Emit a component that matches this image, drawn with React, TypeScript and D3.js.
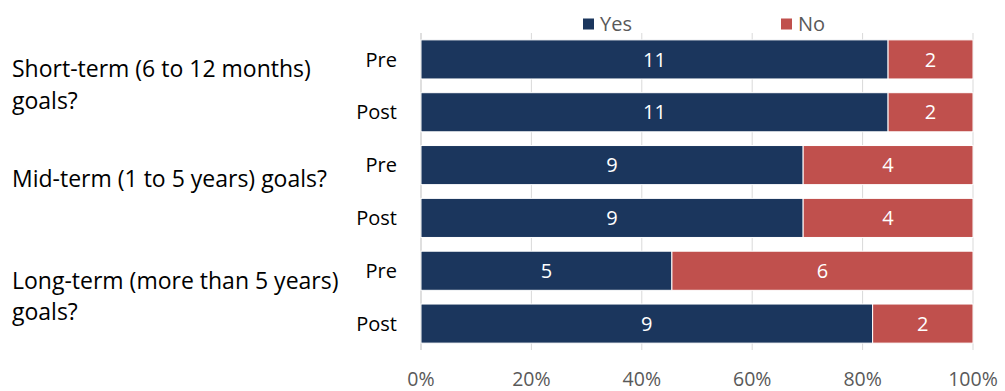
import React from "react";
import * as d3 from "d3";

const groupLines = [["Short-term (6 to 12 months)", "goals?"], ["Mid-term (1 to 5 years) goals?"], ["Long-term (more than 5 years)", "goals?"]];
const phases = ["Pre", "Post"];
const yesValues = [11, 11, 9, 9, 5, 9];
const noValues = [2, 2, 4, 4, 6, 2];
const ticks = [0, 0.2, 0.4, 0.6, 0.8, 1];
const seriesNames = ["Yes", "No"];
const colors = ["#1B365D", "#C0504D"];

export default function App() {
  const W = 1005, H = 391;
  const left = 421, right = 973, top = 33, bottom = 350;
  const rows = yesValues.map((y, i) => ({ key: `${i}`, phase: phases[i % 2], group: Math.floor(i / 2), yes: y, no: noValues[i] }));
  const x = d3.scaleLinear().domain([0, 1]).range([left, right]);
  const y = d3.scaleBand().domain(rows.map(r => r.key)).range([top, bottom]).paddingInner(0.26).paddingOuter(0.13);
  const font = "'Open Sans', sans-serif";
  return (
    <svg width={W} height={H} style={{ position: "absolute", left: 0, top: 0, fontFamily: font }}>
      {ticks.map(t => (
        <line key={t} x1={x(t)} x2={x(t)} y1={top} y2={bottom} stroke={t === 0 ? "#BFBFBF" : "#D9D9D9"} strokeWidth={1} />
      ))}
      {rows.map(r => {
        const tot = r.yes + r.no;
        const x0 = x(0), x1 = x(r.yes / tot), x2 = x(1);
        const by = y(r.key)!, bh = y.bandwidth();
        return (
          <g key={r.key}>
            <rect x={x0} y={by} width={x1 - x0} height={bh} fill={colors[0]} stroke="#fff" strokeWidth={1} />
            <rect x={x1} y={by} width={x2 - x1} height={bh} fill={colors[1]} stroke="#fff" strokeWidth={1} />
            <text x={(x0 + x1) / 2} y={by + bh / 2} dy="0.36em" textAnchor="middle" fill="#fff" fontSize={20}>{r.yes}</text>
            <text x={(x1 + x2) / 2} y={by + bh / 2} dy="0.36em" textAnchor="middle" fill="#fff" fontSize={20}>{r.no}</text>
            <text x={397} y={by + bh / 2} dy="0.36em" textAnchor="end" fill="#000" fontSize={20}>{r.phase}</text>
          </g>
        );
      })}
      {groupLines.map((lines, g) => {
        const cy = (y(`${g * 2}`)! + y(`${g * 2 + 1}`)! + y.bandwidth()) / 2;
        const lh = 31.5;
        const firstBaseline = lines.length === 1 ? cy - 4.5 : cy - 8.5;
        return (
          <text key={g} x={12} fill="#000" fontSize={23}>
            {lines.map((l, i) => (
              <tspan key={i} x={12} y={firstBaseline + i * lh}>{l}</tspan>
            ))}
          </text>
        );
      })}
      {ticks.map(t => (
        <text key={t} x={x(t)} y={386} textAnchor="middle" fill="#595959" fontSize={19.5}>{d3.format(".0%")(t)}</text>
      ))}
      {seriesNames.map((s, i) => {
        const lx = i === 0 ? 583 : 781;
        return (
          <g key={s}>
            <rect x={lx} y={18.5} width={11} height={11} fill={colors[i]} />
            <text x={lx + 17} y={31} fill="#595959" fontSize={20}>{s}</text>
          </g>
        );
      })}
    </svg>
  );
}
